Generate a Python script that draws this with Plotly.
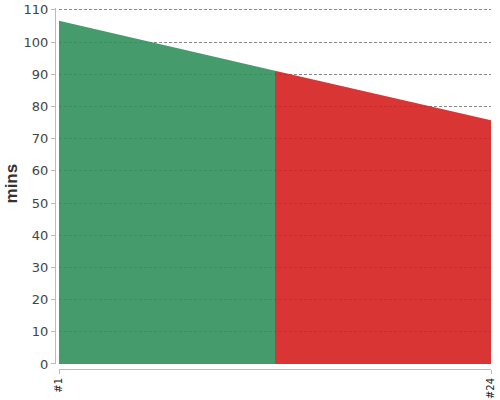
"""
    Area chart of minutes per session, split in two coloured halves
"""

## libraries
import plotly.graph_objects as go

## data
first_x = [1, 12.5]
first_mins = [106.6, 91.1]
second_x = [12.5, 24]
second_mins = [91.1, 75.7]
tick_pos = [1, 24]
tick_text = ['#1', '#24']

## build figure
fig = go.Figure()

fig.add_trace(go.Scatter(
    x = first_x, y = first_mins, fill = 'tozeroy', mode = 'lines',
    line = dict(width = 0, color = 'rgb(49,144,92)'),
    fillcolor = 'rgba(49,144,92,0.9)', showlegend = False, hoverinfo = 'skip'
))
fig.add_trace(go.Scatter(
    x = second_x, y = second_mins, fill = 'tozeroy', mode = 'lines',
    line = dict(width = 0, color = 'rgb(213,31,31)'),
    fillcolor = 'rgba(213,31,31,0.9)', showlegend = False, hoverinfo = 'skip'
))

axis_grey = '#bbbbbb'

fig.update_layout(
    width = 500, height = 400,
    margin = dict(l = 55, r = 9, t = 8, b = 31, autoexpand = False),
    plot_bgcolor = 'white', paper_bgcolor = 'white',
    font = dict(family = 'DejaVu Sans', color = '#444444'),
    xaxis = dict(
        domain = [0.0092, 1], anchor = 'free', position = 0,
        range = [1, 24], showgrid = False, zeroline = False,
        showline = True, linecolor = axis_grey, linewidth = 1,
        tickmode = 'array', tickvals = tick_pos, ticktext = tick_text,
        ticks = 'outside', ticklen = 4, tickcolor = axis_grey,
        tickangle = -90, tickfont = dict(size = 10, color = '#222222'),
        automargin = False,
    ),
    yaxis = dict(
        ## a little headroom so the 110 grid line is still drawn
        domain = [0.0139, 1], anchor = 'free', position = 0,
        range = [0, 110.6], dtick = 10, zeroline = False,
        showgrid = True, gridcolor = '#888888', griddash = '3px,2px',
        gridwidth = 1,
        showline = True, linecolor = axis_grey, linewidth = 1,
        ticks = 'outside', ticklen = 4, tickcolor = axis_grey,
        tickfont = dict(size = 13, color = '#444444'),
        automargin = False,
    ),
)

## y axis title placed by hand
fig.add_annotation(
    text = '<b>mins</b>', textangle = -90, showarrow = False,
    xref = 'paper', yref = 'paper', x = -0.1, y = 0.515,
    xanchor = 'center', yanchor = 'middle',
    font = dict(family = 'Liberation Sans', size = 17, color = '#333333'),
)

## write figure to disk (drop the page's default body margin)
fig.write_html(
    'out.html', config = dict(displayModeBar = False),
    post_script = "document.body.style.margin='0px';"
)
